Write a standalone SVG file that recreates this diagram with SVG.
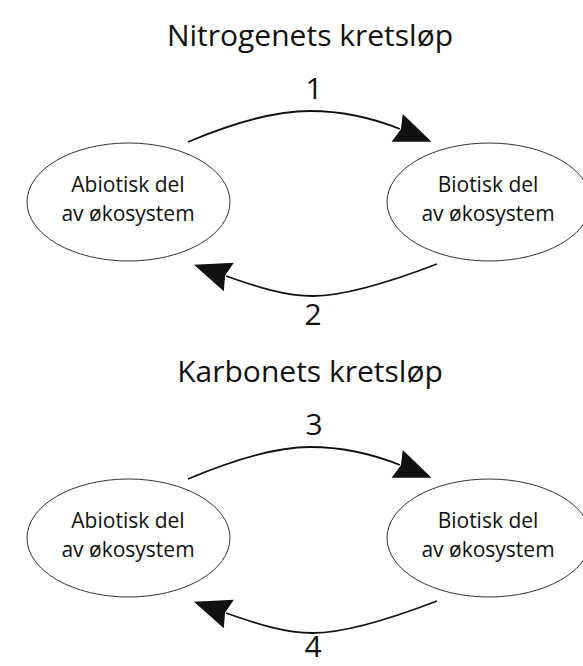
<svg xmlns="http://www.w3.org/2000/svg" width="583" height="666" viewBox="0 0 583 666">
  <style>
    .title { font-family: "Open Sans", "Liberation Sans", sans-serif; font-size: 30px; fill: #111; text-anchor: middle; }
    .num { font-family: "Open Sans", "Liberation Sans", sans-serif; font-size: 30px; fill: #111; text-anchor: middle; }
    .lbl { font-family: "Open Sans", "Liberation Sans", sans-serif; font-size: 21px; fill: #111; text-anchor: middle; }
    .node ellipse { fill: none; stroke: #333; stroke-width: 1; }
    .flow { fill: none; stroke: #111; stroke-width: 1.8; marker-end: url(#head); }
  </style>
  <defs>
    <marker id="head" markerUnits="userSpaceOnUse" markerWidth="44" markerHeight="36" viewBox="-2 -18 44 36" refX="3" refY="0" orient="auto">
      <path d="M0,-15 L37,0 L0,15 L4,0 Z" fill="#111"/>
    </marker>
  </defs>
  <rect width="583" height="666" fill="#ffffff"/>

  <!-- Nitrogen cycle -->
  <text class="title" x="310" y="46">Nitrogenets kretsløp</text>
  <g id="n-abiotic" class="node">
    <ellipse cx="128.5" cy="202" rx="101.5" ry="59"/>
    <text class="lbl" x="128" y="192">Abiotisk del</text>
    <text class="lbl" x="128" y="221">av økosystem</text>
  </g>
  <g id="n-biotic" class="node">
    <ellipse cx="489" cy="202" rx="102" ry="59"/>
    <text class="lbl" x="488" y="192">Biotisk del</text>
    <text class="lbl" x="488" y="221">av økosystem</text>
  </g>

  <!-- Carbon cycle -->
  <text class="title" x="310" y="382">Karbonets kretsløp</text>
  <g id="c-abiotic" class="node">
    <ellipse cx="128.5" cy="538" rx="101.5" ry="59"/>
    <text class="lbl" x="128" y="528">Abiotisk del</text>
    <text class="lbl" x="128" y="557">av økosystem</text>
  </g>
  <g id="c-biotic" class="node">
    <ellipse cx="489" cy="538" rx="102" ry="59"/>
    <text class="lbl" x="488" y="528">Biotisk del</text>
    <text class="lbl" x="488" y="557">av økosystem</text>
  </g>

  <g id="connectors">
    <path class="flow" d="M188,142 C240,120 280,111 310,111 C340,111 370,117 400,129"/>
    <text class="num" x="314" y="99">1</text>
    <path class="flow" d="M437,264 C390,282 345,296 313,296 C285,296 257,287 226,276"/>
    <text class="num" x="313" y="325">2</text>
    <path class="flow" d="M188,479 C240,457 280,447 310,447 C340,447 370,453 400,465"/>
    <text class="num" x="314" y="435">3</text>
    <path class="flow" d="M437,601 C390,619 345,633 313,633 C285,633 257,624 226,613"/>
    <text class="num" x="313" y="657">4</text>
  </g>
</svg>
